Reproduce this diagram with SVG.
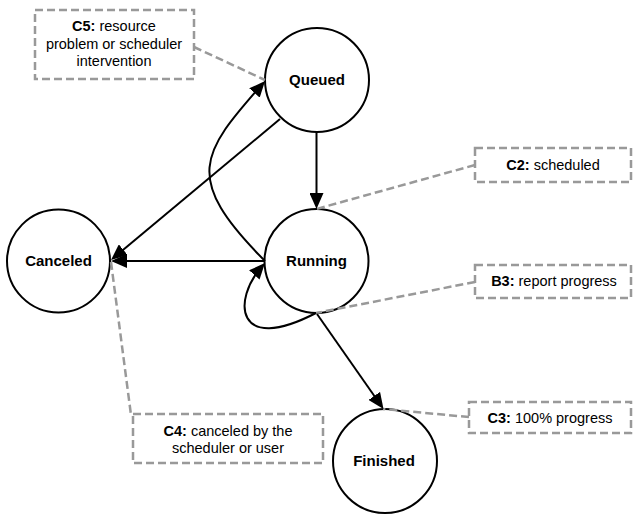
<svg xmlns="http://www.w3.org/2000/svg" width="633" height="515" viewBox="0 0 633 515">
  <style>
    .state circle { fill: #ffffff; stroke: #000000; stroke-width: 2; }
    .state text { font-family: "Liberation Sans", Arial, sans-serif; font-size: 15px; font-weight: bold; text-anchor: middle; fill: #000000; }
    .note rect { fill: #ffffff; stroke: #999999; stroke-width: 2.5; stroke-dasharray: 8 4; }
    .note text { font-family: "Liberation Sans", Arial, sans-serif; font-size: 14.5px; text-anchor: middle; fill: #000000; }
    .note tspan.k { font-weight: bold; }
    .link { fill: none; stroke: #999999; stroke-width: 2.5; stroke-dasharray: 8 4; }
    .edge { fill: none; stroke: #000000; stroke-width: 2; marker-end: url(#arrow); }
  </style>
  <defs>
    <marker id="arrow" viewBox="0 0 16 14" refX="12" refY="7" markerWidth="16" markerHeight="14" markerUnits="userSpaceOnUse" orient="auto">
      <path d="M0,0 L16,7 L0,14 z" fill="#000000"/>
    </marker>
  </defs>

  <!-- state nodes -->
  <g id="queued" class="state">
    <circle cx="317" cy="80" r="52"/>
    <text x="317" y="85">Queued</text>
  </g>
  <g id="running" class="state">
    <circle cx="316.5" cy="261" r="52"/>
    <text x="316.5" y="266">Running</text>
  </g>
  <g id="canceled" class="state">
    <circle cx="58.5" cy="261" r="51.5"/>
    <text x="58.5" y="266">Canceled</text>
  </g>
  <g id="finished" class="state">
    <circle cx="385" cy="461" r="52"/>
    <text x="384" y="466">Finished</text>
  </g>

  <!-- annotation boxes -->
  <g id="note-c5" class="note">
    <rect x="35" y="10" width="159" height="69"/>
    <text x="114" y="31"><tspan class="k">C5:</tspan> resource</text>
    <text x="114" y="48.5">problem or scheduler</text>
    <text x="114" y="66">intervention</text>
  </g>
  <g id="note-c2" class="note">
    <rect x="475" y="148" width="156" height="34"/>
    <text x="553" y="169.5"><tspan class="k">C2:</tspan> scheduled</text>
  </g>
  <g id="note-b3" class="note">
    <rect x="475" y="265" width="156" height="33"/>
    <text x="554" y="286"><tspan class="k">B3:</tspan> report progress</text>
  </g>
  <g id="note-c3" class="note">
    <rect x="469" y="402" width="162" height="31"/>
    <text x="550" y="422.5"><tspan class="k">C3:</tspan> 100% progress</text>
  </g>
  <g id="note-c4" class="note">
    <rect x="133" y="414" width="190" height="49"/>
    <text x="228" y="435.5"><tspan class="k">C4:</tspan> canceled by the</text>
    <text x="228" y="453">scheduler or user</text>
  </g>

  <!-- annotation leader lines -->
  <g id="note-links">
    <path class="link" d="M194,47 L265,80"/>
    <path class="link" d="M475,165 L316.5,209"/>
    <path class="link" d="M475,282 L316,313"/>
    <path class="link" d="M469,417 L383,409"/>
    <path class="link" d="M111,262 L131,415"/>
  </g>

  <!-- transitions -->
  <g id="transitions">
    <path class="edge" d="M316.5,132 L316.5,205"/>
    <path class="edge" d="M280,119 L114.1,257.4"/>
    <path class="edge" d="M265,261 L115,261"/>
    <path class="edge" d="M265,261 C182,178 201,153.5 262.4,84"/>
    <path class="edge" d="M316,313 C235,355 232,300 262.3,266"/>
    <path class="edge" d="M317,314 L381.2,405.7"/>
  </g>
</svg>
